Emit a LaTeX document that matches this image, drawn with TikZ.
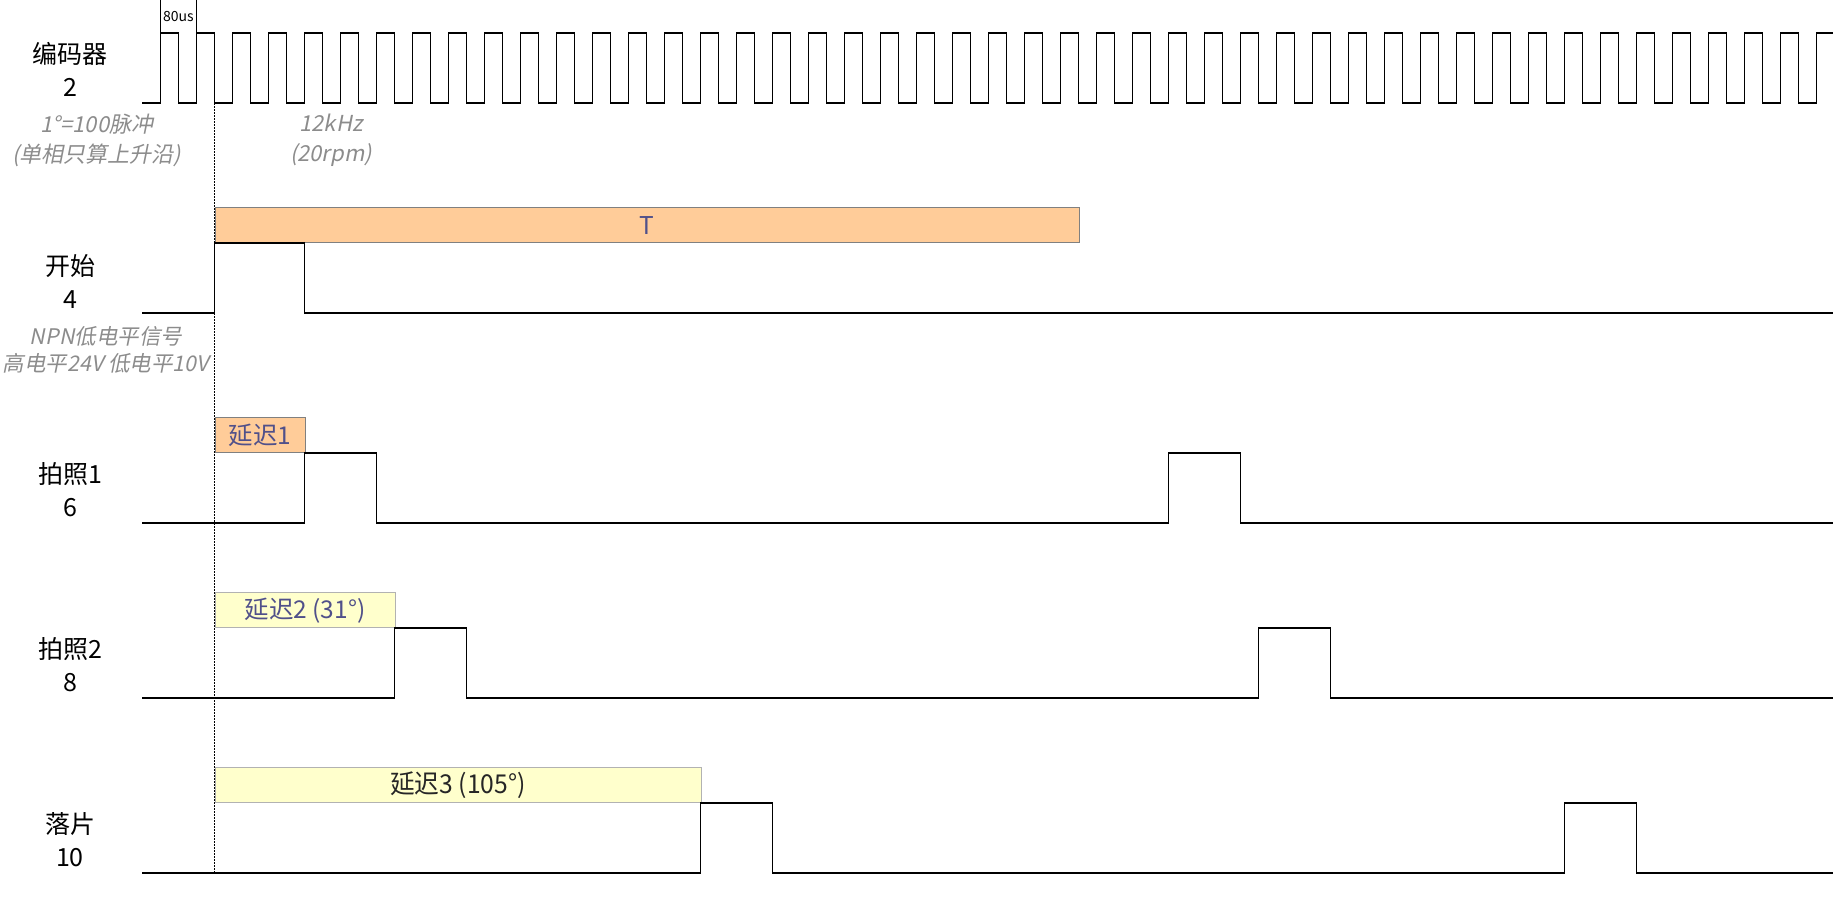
\documentclass[tikz,border=0pt]{standalone}
\usepackage{fontspec}
\setmainfont{Noto Sans CJK SC}
\newfontfamily\notefont[FakeSlant=0.2]{Noto Sans CJK SC}
\newfontfamily\narrowfont[FakeStretch=0.95]{Noto Sans CJK SC}
\usetikzlibrary{positioning}

\definecolor{barorange}{HTML}{FFCC99}
\definecolor{baryellow}{HTML}{FFFFCC}
\definecolor{notegray}{HTML}{8C8C8C}
\definecolor{boxtext}{HTML}{50508A}

\begin{document}
\begin{tikzpicture}[
        x=1pt, y=-1pt,
        sig/.style={draw=black, line width=1.9pt, line join=miter},
        guide/.style={draw=black, line width=1pt, dash pattern=on 1.5pt off 1.5pt},
        tick/.style={draw=black, line width=1pt},
        chlabel/.style={
            font=\fontsize{25}{33}\selectfont,
            align=center,
            inner sep=0pt
        },
        note/.style={
            font=\notefont\fontsize{22}{30}\selectfont,
            text=notegray,
            align=center,
            inner sep=0pt
        },
        orangebox/.style={
            draw=black!50,
            fill=barorange,
            line width=1pt,
            minimum height=35pt,
            inner sep=0pt,
            anchor=south west,
            text=boxtext,
            font=\fontsize{24.5}{28}\selectfont
        },
        yellowbox/.style={
            draw=black!30,
            fill=baryellow,
            line width=1pt,
            minimum height=35pt,
            inner sep=0pt,
            anchor=south west,
            text=boxtext,
            font=\fontsize{24.5}{28}\selectfont
        }
    ]

    \useasboundingbox (0,0) rectangle (1833,899);

    % channel names
    \node[chlabel] (encname)  at (70,69.6) {编码器\\2};
    \node[chlabel] (startname) at (70,281) {开始\\4};
    \node[chlabel] (shotAname) at (70,490) {拍照1\\6};
    \node[chlabel] (shotBname) at (70,665) {拍照2\\8};
    \node[chlabel] (dropname)  at (70,840) {落片\\10};

    % notes
    \node[note] (encnote)  at (96.7,140) {1°=100脉冲\\(单相只算上升沿)};
    \node[note] (freqnote) at (331,140) {12kHz\\(20rpm)};
    \node[note, font=\notefont\fontsize{21.5}{27}\selectfont] (npnnote) at (106,350)
        {NPN低电平信号\\高电平24V 低电平10V};

    % period marker
    \draw[tick] (160.5,0) -- (160.5,33.3);
    \draw[tick] (196.5,0) -- (196.5,33.3);
    \node[font=\fontsize{14}{16}\selectfont, inner sep=0pt] (period) at (178.5,16.7) {80us};

    % reference edge
    \draw[guide] (214.5,103.3) -- (214.5,873.3);

    % delay bars
    \node[orangebox, minimum width=864pt] (tbar)   at (214.5,243.3) {T};
    \node[orangebox, minimum width=90pt]  (delayA) at (214.5,453.3) {延迟1};
    \node[yellowbox, minimum width=180pt] (delayB) at (214.5,628.3) {延迟2 (31°)};
    \node[yellowbox, minimum width=486pt, text=black!85,
          font=\narrowfont\fontsize{26}{28}\selectfont] (delayC) at (214.5,803.3) {延迟3 (105°)};

    % encoder pulses
    \draw[sig] (142,103.3) -- (160.5,103.3)
        foreach \k in {0,...,45} { -- ++(0,-70) -- ++(18,0) -- ++(0,70) -- ++(18,0) }
        -- ++(0,-70) -- (1833,33.3);

    % start pulse
    \draw[sig] (142,313.3) -| (214.5,243.3) -| (304.5,313.3) -- (1833,313.3);

    % delayed outputs
    \foreach \low/\first in {523.3/304.5, 698.3/394.5, 873.3/700.5} {
        \draw[sig] (142,\low) -| (\first,\low-70) -| (\first+72,\low)
            -| (\first+864,\low-70) -| (\first+936,\low) -- (1833,\low);
    }

\end{tikzpicture}
\end{document}
